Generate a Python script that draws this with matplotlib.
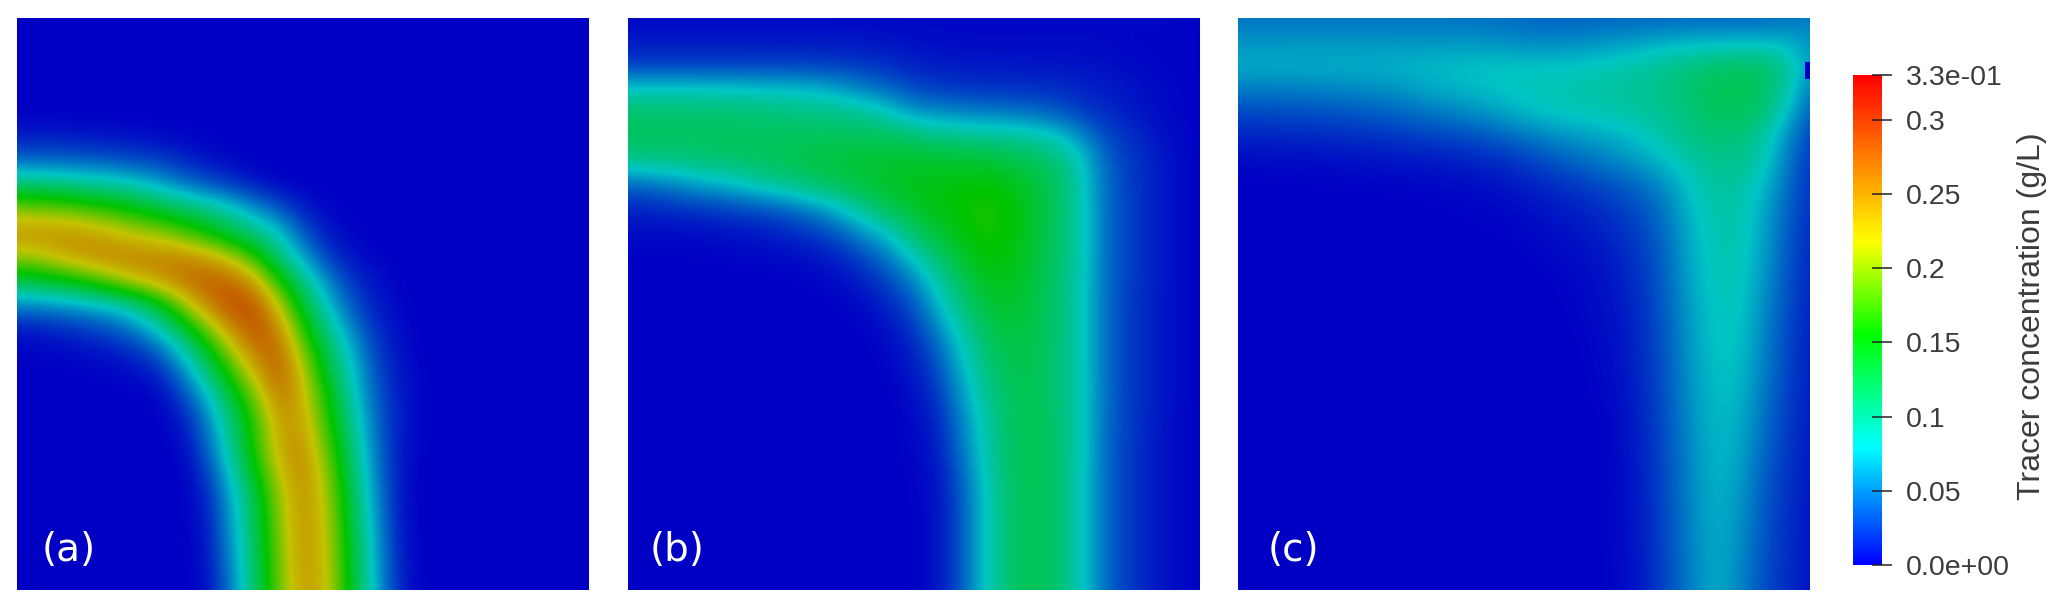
from __future__ import annotations

import matplotlib

matplotlib.use("Agg")
import matplotlib.pyplot as plt  # noqa: E402,I001
import numpy as np
from matplotlib.cm import ScalarMappable
from matplotlib.colors import LinearSegmentedColormap, Normalize
from matplotlib.patches import Rectangle

# concentration, in 1e-3 g/L, top row first
PANEL_A = [
    [0, 0, 0, 0, 0, 0, 0, 0, 0, 0, 0, 0, 0, 0, 0, 0, 0, 0, 0, 0, 0, 0, 0, 0, 0],
    [0, 0, 0, 0, 0, 0, 0, 0, 0, 0, 0, 0, 0, 0, 0, 0, 0, 0, 0, 0, 0, 0, 0, 0, 0],
    [0, 0, 0, 0, 0, 0, 0, 0, 0, 0, 0, 0, 0, 0, 0, 0, 0, 0, 0, 0, 0, 0, 0, 0, 0],
    [0, 0, 0, 0, 0, 0, 0, 0, 0, 0, 0, 0, 0, 0, 0, 0, 0, 0, 0, 0, 0, 0, 0, 0, 0],
    [0, 0, 0, 0, 0, 0, 0, 0, 0, 0, 0, 0, 0, 0, 0, 0, 0, 0, 0, 0, 0, 0, 0, 0, 0],
    [12, 12, 11, 10, 8, 6, 4, 3, 1, 0, 0, 0, 0, 0, 0, 0, 0, 0, 0, 0, 0, 0, 0, 0, 0],
    [42, 42, 40, 38, 35, 30, 26, 15, 8, 3, 0, 0, 0, 0, 0, 0, 0, 0, 0, 0, 0, 0, 0, 0, 0],
    [115, 112, 108, 100, 95, 85, 68, 50, 35, 22, 10, 2, 0, 0, 0, 0, 0, 0, 0, 0, 0, 0, 0, 0, 0],
    [195, 190, 185, 175, 165, 150, 135, 120, 105, 85, 60, 35, 12, 3, 0, 0, 0, 0, 0, 0, 0, 0, 0, 0, 0],
    [250, 250, 248, 240, 225, 210, 200, 175, 155, 125, 105, 80, 35, 10, 2, 0, 0, 0, 0, 0, 0, 0, 0, 0, 0],
    [205, 215, 235, 250, 258, 258, 255, 255, 235, 210, 165, 110, 65, 25, 8, 2, 0, 0, 0, 0, 0, 0, 0, 0, 0],
    [130, 138, 150, 170, 195, 225, 245, 265, 280, 268, 235, 160, 105, 55, 22, 8, 1, 0, 0, 0, 0, 0, 0, 0, 0],
    [55, 58, 65, 72, 85, 105, 145, 205, 255, 290, 280, 215, 135, 80, 35, 12, 3, 0, 0, 0, 0, 0, 0, 0, 0],
    [10, 12, 18, 25, 35, 55, 88, 135, 195, 252, 288, 250, 165, 105, 55, 20, 5, 0, 0, 0, 0, 0, 0, 0, 0],
    [2, 2, 4, 6, 10, 18, 40, 85, 140, 205, 262, 275, 195, 125, 75, 28, 8, 0, 0, 0, 0, 0, 0, 0, 0],
    [0, 0, 0, 1, 2, 5, 12, 50, 105, 165, 225, 278, 220, 140, 85, 35, 10, 1, 0, 0, 0, 0, 0, 0, 0],
    [0, 0, 0, 0, 0, 0, 2, 25, 70, 130, 190, 260, 230, 160, 95, 40, 12, 2, 0, 0, 0, 0, 0, 0, 0],
    [0, 0, 0, 0, 0, 0, 0, 10, 50, 110, 170, 240, 240, 170, 105, 45, 13, 2, 0, 0, 0, 0, 0, 0, 0],
    [0, 0, 0, 0, 0, 0, 0, 3, 40, 100, 165, 235, 250, 185, 115, 50, 10, 1, 0, 0, 0, 0, 0, 0, 0],
    [0, 0, 0, 0, 0, 0, 0, 0, 25, 85, 150, 220, 255, 200, 120, 55, 10, 0, 0, 0, 0, 0, 0, 0, 0],
    [0, 0, 0, 0, 0, 0, 0, 0, 15, 70, 130, 205, 250, 210, 130, 60, 10, 0, 0, 0, 0, 0, 0, 0, 0],
    [0, 0, 0, 0, 0, 0, 0, 0, 10, 65, 125, 200, 250, 215, 135, 65, 10, 0, 0, 0, 0, 0, 0, 0, 0],
    [0, 0, 0, 0, 0, 0, 0, 0, 8, 60, 120, 195, 248, 220, 140, 70, 12, 0, 0, 0, 0, 0, 0, 0, 0],
    [0, 0, 0, 0, 0, 0, 0, 0, 6, 55, 118, 192, 246, 222, 142, 72, 14, 0, 0, 0, 0, 0, 0, 0, 0],
    [0, 0, 0, 0, 0, 0, 0, 0, 4, 50, 115, 190, 245, 225, 145, 75, 15, 0, 0, 0, 0, 0, 0, 0, 0],
]

PANEL_B = [
    [3, 3, 3, 3, 3, 3, 3, 3, 3, 3, 3, 3, 3, 3, 3, 3, 3, 3, 3, 3, 3, 3, 3, 3, 1],
    [10, 10, 10, 10, 10, 10, 10, 10, 10, 10, 9, 8, 6, 5, 4, 4, 4, 4, 4, 4, 4, 2, 2, 2, 1],
    [25, 25, 25, 25, 25, 25, 26, 26, 25, 24, 22, 18, 14, 12, 11, 10, 10, 9, 9, 8, 7, 5, 3, 2, 1],
    [85, 85, 85, 84, 84, 82, 80, 78, 74, 65, 52, 42, 30, 25, 22, 21, 20, 20, 18, 15, 12, 9, 5, 3, 1],
    [115, 115, 115, 114, 114, 112, 110, 108, 105, 102, 98, 85, 62, 60, 55, 52, 50, 45, 38, 25, 18, 12, 7, 3, 1],
    [120, 120, 120, 120, 120, 120, 120, 121, 122, 122, 122, 122, 116, 108, 104, 102, 100, 95, 85, 60, 32, 20, 11, 5, 1],
    [102, 104, 106, 110, 114, 118, 122, 126, 130, 134, 136, 138, 140, 140, 138, 136, 130, 122, 112, 85, 42, 25, 14, 6, 1],
    [40, 46, 55, 65, 72, 85, 95, 106, 116, 126, 134, 140, 145, 148, 152, 155, 146, 136, 118, 88, 45, 26, 14, 6, 1],
    [15, 15, 18, 22, 25, 30, 35, 45, 60, 80, 105, 125, 140, 150, 156, 165, 156, 138, 120, 90, 46, 26, 14, 6, 1],
    [5, 5, 5, 5, 7, 9, 12, 17, 25, 40, 62, 85, 115, 135, 150, 162, 155, 138, 118, 90, 46, 26, 14, 6, 1],
    [1, 1, 1, 1, 2, 3, 4, 6, 9, 16, 32, 52, 85, 115, 138, 155, 150, 135, 116, 90, 46, 26, 14, 6, 1],
    [0, 0, 0, 0, 0, 0, 0, 1, 3, 6, 15, 30, 55, 90, 122, 143, 146, 132, 114, 88, 46, 26, 14, 6, 1],
    [0, 0, 0, 0, 0, 0, 0, 0, 0, 2, 6, 16, 35, 75, 108, 133, 140, 130, 112, 88, 46, 25, 13, 6, 1],
    [0, 0, 0, 0, 0, 0, 0, 0, 0, 0, 2, 8, 22, 55, 92, 122, 134, 128, 112, 88, 46, 25, 13, 6, 1],
    [0, 0, 0, 0, 0, 0, 0, 0, 0, 0, 0, 4, 14, 38, 80, 112, 128, 126, 112, 88, 46, 25, 13, 6, 1],
    [0, 0, 0, 0, 0, 0, 0, 0, 0, 0, 0, 2, 9, 28, 70, 104, 124, 125, 112, 88, 46, 25, 13, 6, 1],
    [0, 0, 0, 0, 0, 0, 0, 0, 0, 0, 0, 0, 6, 20, 60, 97, 120, 125, 112, 88, 45, 25, 13, 6, 1],
    [0, 0, 0, 0, 0, 0, 0, 0, 0, 0, 0, 0, 4, 14, 52, 92, 118, 125, 114, 88, 45, 25, 12, 5, 1],
    [0, 0, 0, 0, 0, 0, 0, 0, 0, 0, 0, 0, 3, 11, 46, 89, 117, 125, 114, 88, 44, 24, 12, 5, 1],
    [0, 0, 0, 0, 0, 0, 0, 0, 0, 0, 0, 0, 2, 9, 40, 86, 116, 125, 114, 86, 44, 24, 12, 5, 1],
    [0, 0, 0, 0, 0, 0, 0, 0, 0, 0, 0, 0, 1, 7, 35, 82, 115, 125, 115, 86, 44, 24, 12, 5, 1],
    [0, 0, 0, 0, 0, 0, 0, 0, 0, 0, 0, 0, 1, 7, 35, 82, 115, 125, 115, 86, 44, 24, 12, 5, 1],
    [0, 0, 0, 0, 0, 0, 0, 0, 0, 0, 0, 0, 1, 7, 35, 82, 115, 125, 115, 86, 44, 24, 12, 5, 1],
    [0, 0, 0, 0, 0, 0, 0, 0, 0, 0, 0, 0, 1, 7, 35, 82, 115, 125, 115, 86, 44, 24, 12, 5, 1],
    [0, 0, 0, 0, 0, 0, 0, 0, 0, 0, 0, 0, 1, 7, 35, 82, 115, 125, 115, 86, 44, 24, 12, 5, 1],
]

PANEL_C = [
    [46, 46, 46, 46, 46, 46, 46, 46, 46, 46, 45, 44, 42, 40, 40, 40, 40, 40, 40, 40, 40, 40, 40, 44, 50],
    [60, 60, 60, 60, 60, 60, 60, 60, 60, 60, 60, 58, 55, 55, 56, 58, 62, 66, 70, 72, 74, 74, 74, 72, 60],
    [71, 71, 72, 72, 72, 72, 73, 74, 76, 78, 80, 80, 80, 80, 80, 84, 88, 94, 100, 108, 114, 118, 118, 100, 60],
    [50, 50, 51, 52, 54, 56, 58, 62, 68, 72, 76, 80, 84, 86, 90, 92, 95, 98, 104, 114, 122, 125, 118, 95, 50],
    [29, 29, 30, 31, 33, 35, 38, 42, 48, 52, 58, 66, 74, 80, 84, 86, 90, 94, 100, 110, 118, 122, 112, 80, 35],
    [14, 14, 15, 16, 17, 18, 20, 22, 25, 28, 32, 38, 46, 54, 60, 66, 72, 80, 92, 104, 110, 108, 95, 60, 25],
    [4, 4, 5, 5, 6, 7, 8, 9, 10, 12, 14, 18, 24, 32, 40, 48, 56, 66, 78, 92, 100, 102, 90, 52, 22],
    [0, 0, 0, 1, 1, 1, 2, 2, 3, 4, 6, 8, 12, 17, 22, 28, 35, 45, 60, 82, 94, 94, 78, 46, 20],
    [0, 0, 0, 0, 0, 0, 0, 0, 1, 1, 2, 3, 6, 9, 13, 17, 24, 34, 50, 76, 90, 91, 71, 42, 18],
    [0, 0, 0, 0, 0, 0, 0, 0, 0, 0, 1, 1, 3, 5, 8, 12, 18, 28, 46, 72, 88, 90, 68, 39, 17],
    [0, 0, 0, 0, 0, 0, 0, 0, 0, 0, 0, 0, 1, 3, 5, 8, 14, 25, 43, 70, 86, 88, 66, 37, 16],
    [0, 0, 0, 0, 0, 0, 0, 0, 0, 0, 0, 0, 0, 1, 3, 6, 12, 22, 41, 68, 84, 86, 63, 35, 15],
    [0, 0, 0, 0, 0, 0, 0, 0, 0, 0, 0, 0, 0, 0, 2, 5, 10, 20, 40, 66, 82, 84, 60, 33, 14],
    [0, 0, 0, 0, 0, 0, 0, 0, 0, 0, 0, 0, 0, 0, 1, 4, 9, 19, 38, 64, 81, 82, 57, 31, 13],
    [0, 0, 0, 0, 0, 0, 0, 0, 0, 0, 0, 0, 0, 0, 0, 3, 8, 18, 37, 63, 80, 80, 55, 30, 12],
    [0, 0, 0, 0, 0, 0, 0, 0, 0, 0, 0, 0, 0, 0, 0, 2, 7, 17, 36, 61, 78, 78, 53, 29, 12],
    [0, 0, 0, 0, 0, 0, 0, 0, 0, 0, 0, 0, 0, 0, 0, 1, 6, 16, 35, 60, 77, 75, 50, 27, 11],
    [0, 0, 0, 0, 0, 0, 0, 0, 0, 0, 0, 0, 0, 0, 0, 0, 5, 15, 34, 58, 76, 72, 47, 25, 11],
    [0, 0, 0, 0, 0, 0, 0, 0, 0, 0, 0, 0, 0, 0, 0, 0, 5, 14, 33, 57, 75, 70, 44, 24, 10],
    [0, 0, 0, 0, 0, 0, 0, 0, 0, 0, 0, 0, 0, 0, 0, 0, 4, 13, 32, 56, 74, 67, 41, 22, 10],
    [0, 0, 0, 0, 0, 0, 0, 0, 0, 0, 0, 0, 0, 0, 0, 0, 4, 13, 32, 55, 73, 64, 38, 21, 9],
    [0, 0, 0, 0, 0, 0, 0, 0, 0, 0, 0, 0, 0, 0, 0, 0, 4, 12, 31, 54, 72, 62, 37, 20, 9],
    [0, 0, 0, 0, 0, 0, 0, 0, 0, 0, 0, 0, 0, 0, 0, 0, 4, 12, 31, 53, 71, 60, 35, 19, 9],
    [0, 0, 0, 0, 0, 0, 0, 0, 0, 0, 0, 0, 0, 0, 0, 0, 3, 12, 30, 52, 70, 58, 34, 19, 8],
    [0, 0, 0, 0, 0, 0, 0, 0, 0, 0, 0, 0, 0, 0, 0, 0, 3, 11, 30, 52, 70, 57, 33, 18, 8],
]

PANEL_LABELS = ["(a)", "(b)", "(c)"]
TICK_VALUES = [0.0, 0.05, 0.1, 0.15, 0.2, 0.25, 0.3, 0.33]
TICK_LABELS = ["0.0e+00", "0.05", "0.1", "0.15", "0.2", "0.25", "0.3", "3.3e-01"]
COLORBAR_LABEL = "Tracer concentration (g/L)"
VMAX = 0.33

FIG_W, FIG_H = 2067, 608
PANEL_LEFTS = [17, 628, 1238]
PANEL_TOP, PANEL_SIZE = 18, 572
LABEL_X = [42, 650, 1268]
LIGHTING = 0.77
TEXT_COLOR = "#3c3c3c"

ANCHORS = [
    (0.0, (0, 0, 1)),
    (0.24, (0, 1, 1)),
    (0.47, (0, 1, 0)),
    (0.66, (1, 1, 0)),
    (1.0, (1, 0, 0)),
]


def _px_axes(fig, left: float, top: float, width: float, height: float):
    return fig.add_axes(
        [left / FIG_W, 1 - (top + height) / FIG_H, width / FIG_W, height / FIG_H]
    )


def main() -> None:
    plt.rcParams["font.family"] = "DejaVu Sans"
    cmap = LinearSegmentedColormap.from_list("tracer", ANCHORS, N=256)
    dimmed = LinearSegmentedColormap.from_list(
        "tracer_lit",
        [(pos, tuple(LIGHTING * c for c in rgb)) for pos, rgb in ANCHORS],
        N=256,
    )
    norm = Normalize(0, VMAX)

    fig = plt.figure(figsize=(FIG_W / 100, FIG_H / 100), dpi=100)
    half = 0.5 / 24
    panels = [PANEL_A, PANEL_B, PANEL_C]
    for i, panel in enumerate(panels):
        ax = _px_axes(fig, PANEL_LEFTS[i], PANEL_TOP, PANEL_SIZE, PANEL_SIZE)
        ax.imshow(
            np.array(panel) / 1000,
            cmap=dimmed,
            norm=norm,
            interpolation="bicubic",
            extent=(-half, 1 + half, 1 + half, -half),
            aspect="auto",
        )
        ax.set_xlim(0, 1)
        ax.set_ylim(1, 0)
        ax.axis("off")
        fig.text(
            LABEL_X[i] / FIG_W,
            1 - 550 / FIG_H,
            PANEL_LABELS[i],
            color="white",
            fontsize=28,
            ha="left",
            va="center",
        )
        if i == 2:
            # small unfilled cell on the right wall of the last panel
            ax.add_patch(
                Rectangle((0.991, 0.077), 0.009, 0.03, color=dimmed(0.0), lw=0)
            )

    cax = _px_axes(fig, 1853, 75, 29, 490)
    cbar = fig.colorbar(ScalarMappable(norm=norm, cmap=cmap), cax=cax)
    cbar.outline.set_visible(False)
    cbar.set_ticks(TICK_VALUES, labels=TICK_LABELS)
    cax.tick_params(
        direction="inout",
        length=15,
        width=1.1,
        color="#222222",
        labelsize=20.5,
        labelcolor=TEXT_COLOR,
        pad=10,
    )
    for label in cax.get_yticklabels():
        label.set_fontfamily("Liberation Sans")
    fig.text(
        2032 / FIG_W,
        1 - 316 / FIG_H,
        COLORBAR_LABEL,
        rotation=90,
        color=TEXT_COLOR,
        family="Liberation Sans",
        fontsize=23,
        ha="center",
        va="center",
    )

    fig.savefig("out.png", dpi=100)
    plt.close(fig)


if __name__ == "__main__":
    main()
